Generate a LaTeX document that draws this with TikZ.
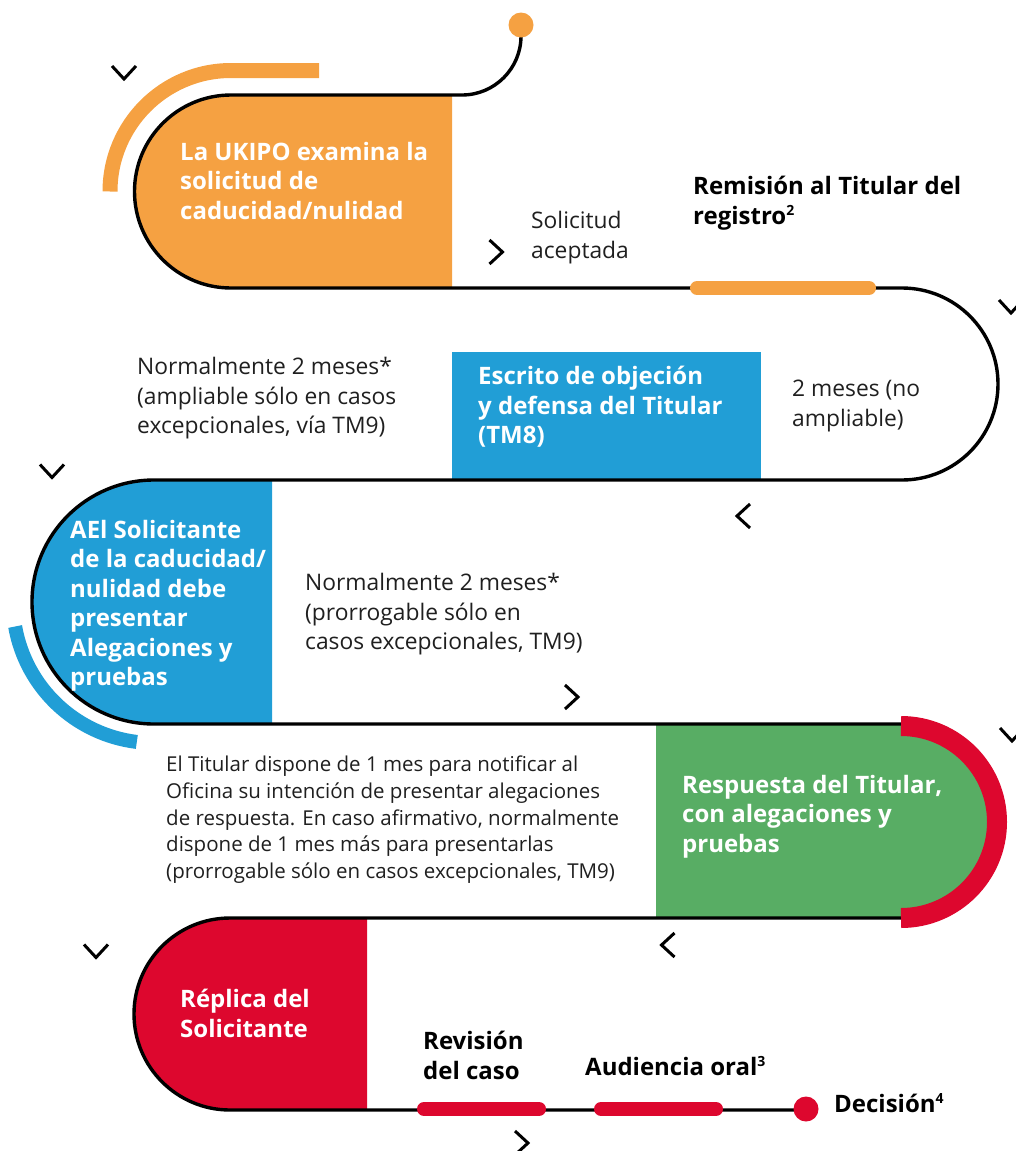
\documentclass[tikz,border=0pt]{standalone}
\usepackage{fontspec}
\setmainfont{Open Sans}
\usepackage{tikz}
\tikzset{>=latex}
\usepackage{xcolor}
\definecolor{myorange}{RGB}{245,161,66}
\definecolor{myblue}{RGB}{33,158,214}
\definecolor{mygreen}{RGB}{88,173,100}
\definecolor{myred}{RGB}{221,7,46}
\colorlet{mytext}{black!88}
\newcommand{\nota}[1]{\textsuperscript{\fontsize{14}{14}\selectfont #1}}

\begin{document}
\begin{tikzpicture}[x=1pt, y=1pt, % unidades em pixels da figura
                    line cap=butt, line join=round,
                    track/.style={black, line width=3.4pt},
                    band/.style={line width=14pt, line cap=round},
                    chevron/.style={black, line width=3pt, line join=miter},
                    boxtext/.style={white, font=\bfseries\fontsize{24}{29.5}\selectfont,
                                    align=left, anchor=north west, inner sep=0pt},
                    steptext/.style={boxtext, black},
                    notetext/.style={mytext, font=\fontsize{22.8}{29.5}\selectfont,
                                     align=left, anchor=north west, inner sep=0pt}]
  \useasboundingbox (0,0) rectangle (1016,-1151);
  \def\dotR{12.5} % raio dos pontos de inicio e fim

% Blocos coloridos de cada etapa
  \fill[myorange] (452,-95) -- (231,-95) arc[start angle=90, end angle=270, radius=96.5]
                  -- (452,-288) -- cycle;
  \fill[myblue]   (452,-352) rectangle (761,-480);
  \fill[myblue]   (272,-480) -- (154,-480) arc[start angle=90, end angle=270, radius=122]
                  -- (272,-724) -- cycle;
  \fill[mygreen]  (656,-724) -- (901,-724) arc[start angle=90, end angle=-90, radius=97]
                  -- (656,-918) -- cycle;
  \fill[myred]    (367,-918) -- (230,-918) arc[start angle=90, end angle=270, radius=96]
                  -- (367,-1110) -- cycle;

% Percurso em serpentina
  \draw[track] (521,-36) arc[start angle=0, end angle=-90, radius=59]
    -- (231,-95)  arc[start angle=90, end angle=270, radius=96.5]
    -- (902,-288) arc[start angle=90, end angle=-90, radius=96]
    -- (154,-480) arc[start angle=90, end angle=270, radius=122]
    -- (901,-724) arc[start angle=90, end angle=-90, radius=97]
    -- (230,-918) arc[start angle=90, end angle=270, radius=96]
    -- (806,-1110);

% Arcos decorativos
  \draw[myorange, line width=15pt] (319,-70.5) -- (231,-70.5)
    arc[start angle=90, end angle=180, radius=121];
  \draw[myblue, line width=14pt] (154,-602) ++(190:141)
    arc[start angle=190, end angle=263, radius=141];
  \draw[myred, line width=20pt] (901,-726) arc[start angle=90, end angle=-90, radius=96];

% Barras sobre o percurso
  \draw[band, myorange] (697,-288) -- (869,-288);
  \draw[band, myred]    (424,-1109) -- (539,-1109);
  \draw[band, myred]    (601,-1109) -- (716,-1109);
  \fill[myorange] (521,-25) circle (\dotR);
  \fill[myred]    (806,-1109) circle (\dotR);

% Setas em forma de chevron (x/y/rotacao)
  \foreach \x/\y/\r in {124/72.5/-90, 496/252/0, 1011/306.5/-90, 743.5/516/180,
                        52/471/-90, 571.5/697/0, 1012/734.5/-90, 668/945/180,
                        96/951/-90, 521.5/1143/0}{
    \draw[chevron, shift={(\x,-\y)}, rotate=\r] (-6.5,12) -- (6.5,0) -- (-6.5,-12);
  }

% Textos das etapas
  \node[boxtext] (examina) at (180,-142) {La UKIPO examina la\\solicitud de\\caducidad/nulidad};
  \node[notetext] (aceptada) at (531,-211) {Solicitud\\aceptada};
  \node[steptext] (remision) at (693,-176) {Remisión al Titular del\\registro\nota{2}};
  \node[notetext] (plazoA) at (137,-357) {Normalmente 2 meses*\\(ampliable sólo en casos\\excepcionales, vía TM9)};
  \node[boxtext] (escrito) at (478,-366) {Escrito de objeción\\y defensa del Titular\\(TM8)};
  \node[notetext] (plazoB) at (792,-380) {2 meses (no\\ampliable)};
  \node[boxtext] (alegaciones) at (70,-520) {AEl Solicitante\\de la caducidad/\\nulidad debe\\presentar\\Alegaciones y\\pruebas};
  \node[notetext] (plazoC) at (305,-573) {Normalmente 2 meses*\\(prorrogable sólo en\\casos excepcionales, TM9)};
  \node[notetext, font=\fontsize{20.5}{26.7}\selectfont] (plazoD) at (166,-756)
    {El Titular dispone de 1 mes para notificar al\\Oficina su intención de presentar alegaciones\\de respuesta. En caso afirmativo, normalmente\\dispone de 1 mes más para presentarlas\\(prorrogable sólo en casos excepcionales, TM9)};
  \node[boxtext] (respuesta) at (682,-775) {Respuesta del Titular,\\con alegaciones y\\pruebas};
  \node[boxtext] (replica) at (180,-989) {Réplica del\\Solicitante};
  \node[steptext] (revision) at (423,-1031) {Revisión\\del caso};
  \node[steptext] (audiencia) at (585,-1056) {Audiencia oral\nota{3}};
  \node[steptext] (decision) at (834,-1093) {Decisión\nota{4}};
\end{tikzpicture}
\end{document}
